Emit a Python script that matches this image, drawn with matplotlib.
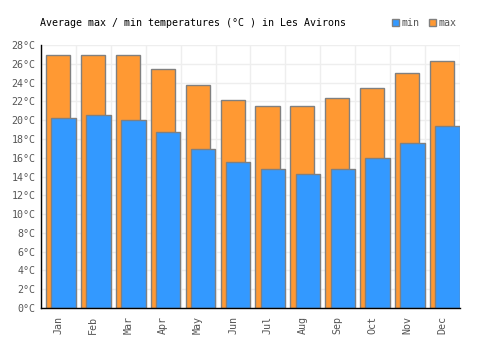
import matplotlib
matplotlib.use('Agg')
import matplotlib.pyplot as plt
import numpy as np

months = ['Jan', 'Feb', 'Mar', 'Apr', 'May', 'Jun', 'Jul', 'Aug', 'Sep', 'Oct', 'Nov', 'Dec']
temp_max = [27.0, 27.0, 26.9, 25.5, 23.8, 22.2, 21.5, 21.5, 22.4, 23.4, 25.0, 26.3]
temp_min = [20.2, 20.6, 20.0, 18.8, 16.9, 15.5, 14.8, 14.3, 14.8, 16.0, 17.6, 19.4]
y_ticks = list(range(0, 29, 2))

plt.rcParams['font.family'] = ['DejaVu Sans Mono']
fs = 7.2

fig = plt.figure(figsize=(5, 3.5), dpi=100)
ax = fig.add_axes([0.082, 0.12, 0.838, 0.751])

x = np.arange(len(months))
edge = '#808080'
ax.bar(x - 0.014, temp_max, width=0.69, color='#ff9933', edgecolor=edge, linewidth=1, zorder=2, label='max')
ax.bar(x + 0.143, temp_min, width=0.70, color='#3399ff', edgecolor=edge, linewidth=1, zorder=3, label='min')

ax.set_xlim(-0.5, 11.5)
ax.set_ylim(0, 28)
ax.set_yticks(y_ticks)
ax.set_yticklabels(['%d°C' % t for t in y_ticks])
ax.set_xticks(x)
ax.set_xticklabels(months, rotation=90)
ax.set_xticks(np.arange(-0.5, 12, 1), minor=True)

ax.grid(True, which='major', axis='y', color='#eeeeee', linewidth=1, zorder=0)
ax.grid(True, which='minor', axis='x', color='#eeeeee', linewidth=1, zorder=0)
ax.tick_params(axis='both', which='both', length=0, labelsize=fs, colors='#555555')
ax.tick_params(axis='x', pad=6)
ax.tick_params(axis='y', pad=4)

for s in ['top', 'right']:
    ax.spines[s].set_visible(False)
for s in ['left', 'bottom']:
    ax.spines[s].set_color('black')
    ax.spines[s].set_linewidth(1)
    ax.spines[s].set_zorder(4)

fig.text(0.079, 0.934, 'Average max / min temperatures (°C ) in Les Avirons', fontsize=fs, color='black', va='center')

handles, labels = ax.get_legend_handles_labels()
leg = fig.legend(handles[::-1], labels[::-1], loc='center left', bbox_to_anchor=(0.783, 0.934), ncol=2,
                 frameon=False, fontsize=fs, handlelength=0.75, handleheight=0.75, handletextpad=0.25,
                 columnspacing=0.9, borderpad=0, borderaxespad=0, labelcolor='#555555')

fig.savefig('out.png', dpi=100)
